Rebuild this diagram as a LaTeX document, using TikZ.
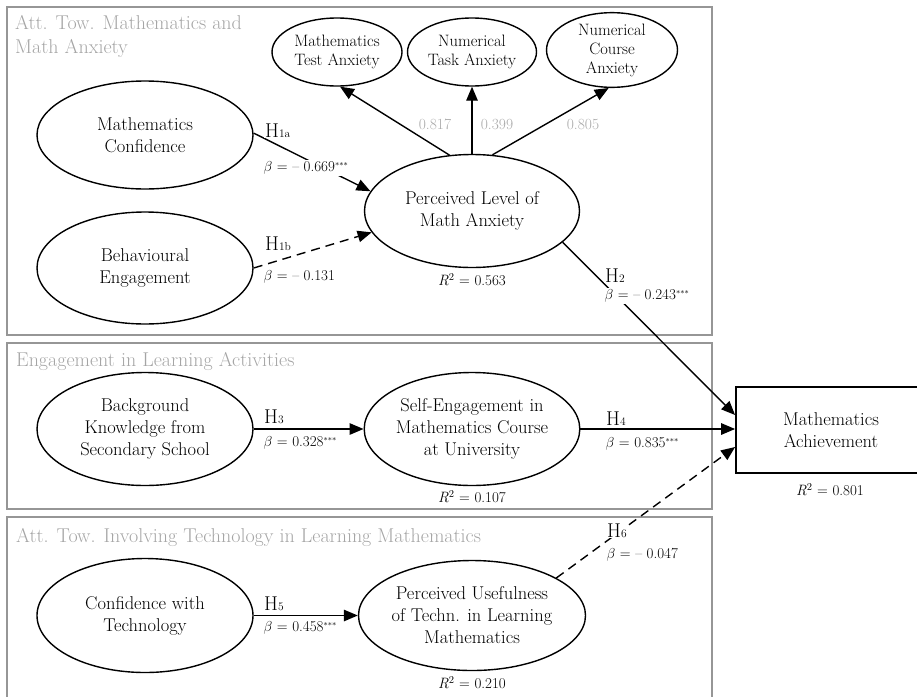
\documentclass[tikz,border=0pt]{standalone}
\usetikzlibrary{shapes.geometric,arrows.meta,calc}
\definecolor{framegray}{RGB}{150,150,150}
\definecolor{titlegray}{RGB}{165,165,165}
\definecolor{loadgray}{RGB}{170,170,170}
\newcommand{\sig}{\raisebox{0.55ex}{\fontsize{8}{8}\selectfont ***}}
\newcommand{\hsub}[1]{{\fontsize{11.5}{11.5}\selectfont #1}}
\begin{document}
\begin{tikzpicture}[x=1pt,y=-1pt,
  lat/.style={ellipse,draw,line width=1.4pt,inner sep=0pt,align=center,
    font=\fontsize{18.5}{22}\selectfont},
  ind/.style={ellipse,draw,line width=1.4pt,inner sep=0pt,align=center,
    font=\fontsize{16.5}{19}\selectfont},
  frame/.style={draw=framegray,line width=1.3pt},
  grouptitle/.style={text=titlegray,inner sep=0pt,font=\fontsize{20}{24}\selectfont},
  hyp/.style={anchor=base west,inner sep=1pt,fill=white,font=\fontsize{20}{20}\selectfont},
  beta/.style={anchor=west,inner sep=1.5pt,fill=white,font=\fontsize{15}{15}\selectfont},
  rsq/.style={inner sep=1pt,font=\fontsize{15}{15}\selectfont},
  load/.style={inner sep=1pt,text=loadgray,font=\fontsize{15.5}{15.5}\selectfont},
  arr/.style={line width=1.4pt,-{Triangle[length=14pt,width=11.5pt]}},
  darr/.style={arr,dash pattern=on 9pt off 6pt}
]
\clip (0,0) rectangle (917,696);
% group frames
\draw[frame] (7,7) rectangle (712,335);
\draw[frame] (7,343) rectangle (712,509);
\draw[frame] (7,517) rectangle (712,702);
\node[grouptitle,anchor=north west,align=left] (t1) at (15,15.5) {Att. Tow. Mathematics and\\Math Anxiety};
\node[grouptitle,anchor=base west] (t2) at (16,366) {Engagement in Learning Activities};
\node[grouptitle,anchor=base west] (t3) at (16,542) {Att. Tow. Involving Technology in Learning Mathematics};

% indicator ellipses
\node[ind,minimum width=130pt,minimum height=68pt] (mta) at (337,52) {Mathematics\\Test Anxiety};
\node[ind,minimum width=129pt,minimum height=68pt] (nta) at (472,52) {Numerical\\Task Anxiety};
\node[ind,minimum width=131pt,minimum height=71pt] (nca) at (612,50) {Numerical\\Course\\Anxiety};

% latent ellipses
\node[lat,minimum width=216pt,minimum height=108pt] (mc) at (145,135) {Mathematics\\Confidence};
\node[lat,minimum width=216pt,minimum height=112pt] (be) at (145,268) {Behavioural\\Engagement};
\node[lat,minimum width=215pt,minimum height=113pt] (plma) at (472,211) {Perceived Level of\\Math Anxiety};
\node[lat,minimum width=216pt,minimum height=113pt] (bk) at (145,429) {Background\\Knowledge from\\Secondary School};
\node[lat,minimum width=215pt,minimum height=113pt] (se) at (472,429) {Self-Engagement in\\Mathematics Course\\at University};
\node[lat,minimum width=216pt,minimum height=114pt] (ct) at (145,615.5) {Confidence with\\Technology};
\node[lat,minimum width=215pt,minimum height=110pt] (pu) at (472,615.5) {Perceived Usefulness\\of Techn. in Learning\\Mathematics};
\node[draw,line width=1.8pt,minimum width=190pt,minimum height=86pt,inner sep=0pt,align=center,
  font=\fontsize{18.5}{22}\selectfont] (ma) at (831,430) {Mathematics\\Achievement};

% loadings
\draw[arr] (plma.112) -- (mta.-85);
\draw[arr] (plma.north) -- (nta.south);
\draw[arr] (plma.70) -- (nca.-95);
\node[load] (l1) at (435,124) {0.817};
\node[load] (l2) at (497,124) {0.399};
\node[load] (l3) at (583,124) {0.805};

% structural paths
\draw[arr] (mc.1) -- (plma.169);
\draw[darr] (be.east) -- (plma.192);
\draw[arr] (plma.-19) -- ($(ma.west)+(0,-15)$);
\draw[arr] (bk.east) -- (se.west);
\draw[arr] (se.east) -- (se.east -| ma.west);
\draw[arr] (ct.east) -- (pu.west);
\draw[darr] (pu.24) -- ($(ma.west)+(0,17)$);

% hypothesis labels
\node[hyp] (h1a) at (264,137) {H\hsub{1a}};
\node[beta] (b1a) at (262,168) {$\beta$ = \textendash{} 0.669\sig};
\node[hyp] (h1b) at (264,250) {H\hsub{1b}};
\node[beta] (b1b) at (262,277) {$\beta$ = \textendash{} 0.131};
\node[hyp] (h2) at (604,282) {H\hsub{2}};
\node[beta] (b2) at (603,296) {$\beta$ = \textendash{} 0.243\sig};
\node[hyp] (h3) at (263,423) {H\hsub{3}};
\node[beta] (b3) at (262,443) {$\beta$ = 0.328\sig};
\node[hyp] (h4) at (605,425) {H\hsub{4}};
\node[beta] (b4) at (604,444) {$\beta$ = 0.835\sig};
\node[hyp] (h5) at (263,610) {H\hsub{5}};
\node[beta] (b5) at (262,628) {$\beta$ = 0.458\sig};
\node[hyp] (h6) at (606,537) {H\hsub{6}};
\node[beta] (b6) at (605,555) {$\beta$ = \textendash{} 0.047};

% R squared
\node[rsq] (r1) at (472,280) {\textit{R}\textsuperscript{2} = 0.563};
\node[rsq] (r2) at (472,497) {\textit{R}\textsuperscript{2} = 0.107};
\node[rsq] (r3) at (472,683) {\textit{R}\textsuperscript{2} = 0.210};
\node[rsq] (r4) at (830,490) {\textit{R}\textsuperscript{2} = 0.801};
\end{tikzpicture}
\end{document}
